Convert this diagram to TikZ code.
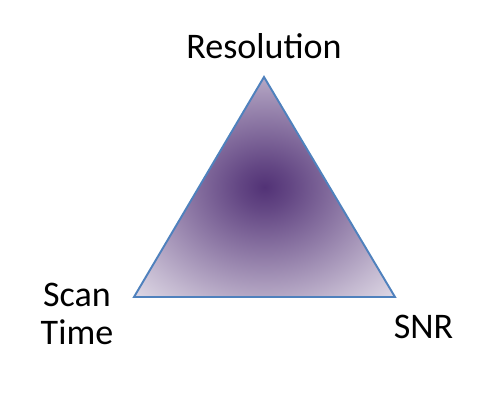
\documentclass[tikz,border=0pt]{standalone}
\usepackage{fontspec}
\setmainfont{Carlito}
\usepackage{xcolor}
\definecolor{tridark}{RGB}{82,50,118}
\definecolor{edgecol}{RGB}{79,129,189}
% soft purple glow, darkest in the middle of the triangle
\pgfdeclareradialshading{purpleglow}{\pgfpoint{0bp}{0bp}}{%
  color(0bp)=(tridark);
  color(5bp)=(tridark!90!white);
  color(16bp)=(tridark!64!white);
  color(28bp)=(tridark!35!white);
  color(38bp)=(tridark!13!white);
  color(45bp)=(tridark!3!white);
  color(50bp)=(white)}

\begin{document}
\begin{tikzpicture}[
    corner/.style={font=\fontsize{20.5}{21.5}\selectfont,align=center}]
  \useasboundingbox (0,0) rectangle (9.84,8.04);
  \coordinate (top) at (5.28,6.50);
  \coordinate (left) at (2.68,2.10);
  \coordinate (right) at (7.90,2.10);
  \shade[shading=purpleglow,draw=edgecol,line width=1.1pt,line join=miter]
    (top) -- (left) -- (right) -- cycle;
  \node[corner,anchor=base] (res) at (5.28,6.88) {Resolution};
  \node[corner,anchor=base] (snr) at (8.47,1.28) {SNR};
  \node[corner,anchor=base] (scan) at (1.54,1.16) {Scan\\Time};
\end{tikzpicture}
\end{document}
